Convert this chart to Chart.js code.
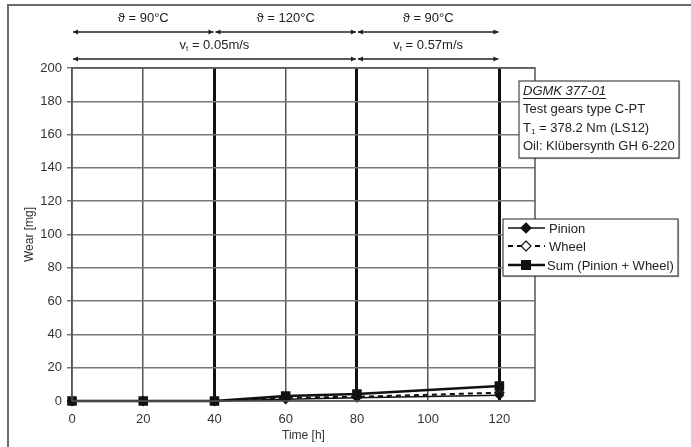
<!DOCTYPE html>
<html>
<head>
<meta charset="utf-8">
<script src="https://cdn.jsdelivr.net/npm/chart.js@4.4.0/dist/chart.umd.min.js"></script>
<style>
  body { margin: 0; background: #fff; }
  #wrap { width: 691px; height: 447px; position: relative; }
</style>
</head>
<body>
<div id="wrap"><canvas id="c" width="691" height="447"></canvas></div>
<script>
// time axis values [h]
const hours = [0, 20, 40, 60, 80, 120];
const pinion = [0, 0, 0, 1, 2, 3.5];
const wheel = [0, 0, 0, 2, 2.5, 5];
const sum = [0, 0, 0, 3, 4.2, 9];
const xTicks = [0, 20, 40, 60, 80, 100, 120];

// test phases drawn above the chart
const tempPhases = [[0, 40, 'ϑ = 90°C'], [40, 80, 'ϑ = 120°C'], [80, 120, 'ϑ = 90°C']];
const speedPhases = [[0, 80, '0.05m/s'], [80, 120, '0.57m/s']];

const FONT = '"Liberation Sans", Arial, sans-serif';

function pts(ys) {
  return hours.map((h, i) => ({ x: h, y: ys[i] }));
}

function arrowHead(ctx, x, y, dir) {
  ctx.beginPath();
  ctx.moveTo(x, y);
  ctx.lineTo(x - dir * 5, y - 2.5);
  ctx.lineTo(x - dir * 5, y + 2.5);
  ctx.closePath();
  ctx.fill();
}

const extras = {
  id: 'extras',
  beforeDraw(chart) {
    const ctx = chart.ctx;
    ctx.save();
    // outer frame
    ctx.strokeStyle = '#6a6a6a';
    ctx.lineWidth = 2;
    ctx.beginPath();
    ctx.moveTo(8, 447);
    ctx.lineTo(8, 5);
    ctx.lineTo(691, 5);
    ctx.stroke();
    ctx.restore();
  },
  afterDraw(chart) {
    const ctx = chart.ctx;
    const xs = chart.scales.x;
    const a = chart.chartArea;
    ctx.save();
    // plot border
    ctx.strokeStyle = '#555';
    ctx.lineWidth = 1.5;
    ctx.strokeRect(a.left, a.top, a.right - a.left, a.bottom - a.top);

    // phase arrows
    ctx.fillStyle = '#222';
    ctx.strokeStyle = '#222';
    ctx.lineWidth = 1.5;
    ctx.font = '13px ' + FONT;
    ctx.textAlign = 'center';
    ctx.textBaseline = 'middle';
    tempPhases.forEach(p => {
      const x1 = xs.getPixelForValue(p[0]) + 1, x2 = xs.getPixelForValue(p[1]) - 1;
      ctx.beginPath(); ctx.moveTo(x1, 32); ctx.lineTo(x2, 32); ctx.stroke();
      arrowHead(ctx, x1, 32, -1); arrowHead(ctx, x2, 32, 1);
      ctx.fillText(p[2], (x1 + x2) / 2, 18);
    });
    speedPhases.forEach(p => {
      const x1 = xs.getPixelForValue(p[0]) + 1, x2 = xs.getPixelForValue(p[1]) - 1;
      ctx.beginPath(); ctx.moveTo(x1, 59); ctx.lineTo(x2, 59); ctx.stroke();
      arrowHead(ctx, x1, 59, -1); arrowHead(ctx, x2, 59, 1);
      const cx = (x1 + x2) / 2;
      const rest = ' = ' + p[2];
      ctx.font = '13px ' + FONT;
      const wv = ctx.measureText('v').width;
      ctx.font = '8px ' + FONT;
      const wt = ctx.measureText('t').width;
      ctx.font = '13px ' + FONT;
      const wr = ctx.measureText(rest).width;
      let x = cx - (wv + wt + wr) / 2;
      ctx.textAlign = 'left';
      ctx.fillText('v', x, 45);
      ctx.font = '8px ' + FONT;
      ctx.fillText('t', x + wv, 49);
      ctx.font = '13px ' + FONT;
      ctx.fillText(rest, x + wv + wt, 45);
      ctx.textAlign = 'center';
    });

    // info box
    ctx.fillStyle = '#fff';
    ctx.shadowColor = 'rgba(0,0,0,0.3)';
    ctx.shadowOffsetX = 1; ctx.shadowOffsetY = 1; ctx.shadowBlur = 1;
    ctx.fillRect(519, 81, 160, 77);
    ctx.shadowColor = 'transparent';
    ctx.strokeStyle = '#444';
    ctx.lineWidth = 1.2;
    ctx.strokeRect(519, 81, 160, 77);
    ctx.fillStyle = '#222';
    ctx.textAlign = 'left';
    ctx.textBaseline = 'middle';
    ctx.font = 'italic 13px ' + FONT;
    ctx.fillText('DGMK 377-01', 523, 91);
    const w0 = ctx.measureText('DGMK 377-01').width;
    ctx.fillRect(523, 98, w0, 1);
    ctx.font = '13px ' + FONT;
    ctx.fillText('Test gears type C-PT', 523, 109);
    ctx.fillText('T', 523, 128);
    const wT = ctx.measureText('T').width;
    ctx.font = '8px ' + FONT;
    ctx.fillText('1', 523 + wT, 132);
    const w1 = ctx.measureText('1').width;
    ctx.font = '13px ' + FONT;
    ctx.fillText(' = 378.2 Nm (LS12)', 523 + wT + w1, 128);
    ctx.fillText('Oil: Klübersynth GH 6-220', 523, 146);

    // legend box
    ctx.fillStyle = '#fff';
    ctx.shadowColor = 'rgba(0,0,0,0.3)';
    ctx.shadowOffsetX = 1; ctx.shadowOffsetY = 1; ctx.shadowBlur = 1;
    ctx.fillRect(503, 219, 175, 57);
    ctx.shadowColor = 'transparent';
    ctx.strokeStyle = '#444';
    ctx.strokeRect(503, 219, 175, 57);
    const items = chart.data.datasets;
    const ly = [228, 246, 265];
    items.forEach((ds, i) => {
      const y = ly[i];
      ctx.strokeStyle = '#111';
      ctx.lineWidth = ds.borderWidth;
      ctx.setLineDash(ds.borderDash || []);
      ctx.beginPath(); ctx.moveTo(508, y); ctx.lineTo(545, y); ctx.stroke();
      ctx.setLineDash([]);
      ctx.lineWidth = 1.2;
      const cx = 526;
      if (ds.pointStyle === 'rect') {
        ctx.fillStyle = '#111';
        ctx.fillRect(cx - 5, y - 5, 10, 10);
      } else {
        ctx.beginPath();
        ctx.moveTo(cx, y - 5); ctx.lineTo(cx + 5, y); ctx.lineTo(cx, y + 5); ctx.lineTo(cx - 5, y);
        ctx.closePath();
        ctx.fillStyle = ds.pointBackgroundColor;
        ctx.fill();
        ctx.strokeStyle = '#111';
        ctx.stroke();
      }
      ctx.fillStyle = '#222';
      ctx.font = '13px ' + FONT;
      ctx.fillText(ds.label, i === 2 ? 547 : 549, y + 1);
    });
    ctx.restore();
  }
};

new Chart(document.getElementById('c'), {
  type: 'line',
  data: {
    datasets: [
      {
        label: 'Pinion', data: pts(pinion),
        borderColor: '#111', borderWidth: 1.5, clip: false,
        pointStyle: 'rectRot', pointRadius: 4,
        pointBackgroundColor: '#111', pointBorderColor: '#111'
      },
      {
        label: 'Wheel', data: pts(wheel),
        borderColor: '#111', borderWidth: 2, borderDash: [5, 4], clip: false,
        pointStyle: 'rectRot', pointRadius: 4,
        pointBackgroundColor: '#fff', pointBorderColor: '#111'
      },
      {
        label: 'Sum (Pinion + Wheel)', data: pts(sum),
        borderColor: '#111', borderWidth: 2.5, clip: false,
        pointStyle: 'rect', pointRadius: 5,
        pointBackgroundColor: '#111', pointBorderColor: '#111'
      }
    ]
  },
  options: {
    responsive: false,
    animation: false,
    layout: { padding: { top: 68, right: 156, left: 18, bottom: 0 } },
    plugins: { legend: { display: false }, tooltip: { enabled: false } },
    scales: {
      x: {
        type: 'linear', min: 0, max: 130,
        afterBuildTicks: s => { s.ticks = xTicks.map(v => ({ value: v })); },
        afterFit: s => { s.height = 46; },
        border: { display: false },
        grid: {
          color: ctx => (ctx.tick && ctx.tick.value % 40 === 0 && ctx.tick.value > 0) ? '#111' : '#555',
          lineWidth: ctx => (ctx.tick && ctx.tick.value % 40 === 0 && ctx.tick.value > 0) ? 3 : 1.5,
          drawTicks: false
        },
        ticks: { color: '#333', font: { family: FONT, size: 13 }, padding: 11, maxRotation: 0 },
        title: { display: true, text: 'Time [h]', color: '#333', font: { family: FONT, size: 12 }, padding: { top: 0 } }
      },
      y: {
        min: 0, max: 200,
        afterFit: s => { s.width = 54; },
        border: { display: false },
        grid: { color: '#777', lineWidth: 1.5, tickLength: 5 },
        ticks: { stepSize: 20, color: '#333', font: { family: FONT, size: 13 }, padding: 5 },
        title: { display: true, text: 'Wear [mg]', color: '#333', font: { family: FONT, size: 12 }, padding: { bottom: 0 } }
      }
    }
  },
  plugins: [extras]
});
</script>
</body>
</html>
